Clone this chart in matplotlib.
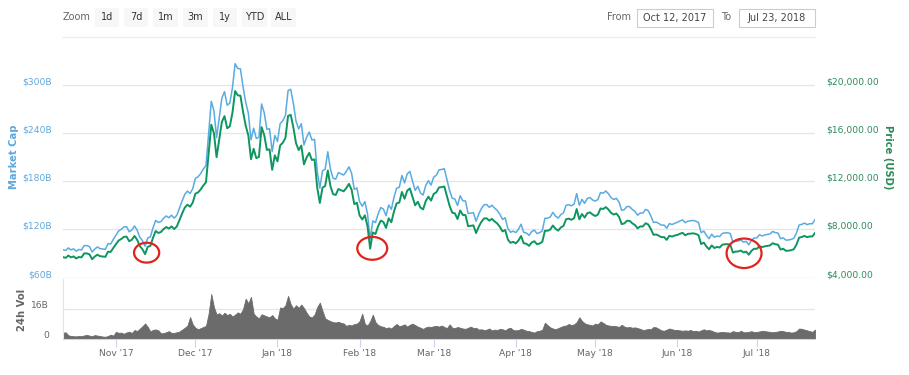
"""
Market cap / price / 24h volume chart, Oct 12 2017 - Jul 23 2018
"""
import matplotlib
matplotlib.use('Agg')
import matplotlib.pyplot as plt
import matplotlib.dates as mdates
import matplotlib.transforms as mtransforms
from matplotlib.patches import Ellipse, FancyBboxPatch, Rectangle
from matplotlib.ticker import FixedLocator, FuncFormatter
import pandas as pd

W, H = 909, 375

START_DATE = '2017-10-12'
END_DATE = '2018-07-23'

# daily price (USD), one value per day
price_oct = [5700, 5640, 5830, 5680, 5760, 5590, 5710, 5680, 6010, 6010, 5930, 5526, 5750, 5904, 5780,
             5753, 5726, 6153, 6130, 6468]
price_nov = [6767, 7078, 7207, 7379, 7407, 7022, 7144, 7459, 7143, 6618, 6357, 5950, 6559, 6635, 7315,
             7871, 7708, 7790, 8037, 8200, 8071, 8253, 8038, 8253, 8790, 9330, 9818, 10058, 9888, 10233]
price_dec = [10975, 11075, 11323, 11657, 11916, 14291, 16700, 16000, 14000, 15455, 16937, 17415, 16408,
             16564, 17706, 19497, 19140, 19114, 17776, 16624, 15802, 13831, 14699, 13926, 14026, 16500,
             15838, 14606, 14656, 12952, 14156]
price_jan = [13657, 14982, 15201, 15599, 17429, 17527, 16477, 15170, 14595, 14973, 13405, 13980, 14360,
             13772, 13819, 11490, 10200, 11474, 11607, 12899, 11600, 10931, 10868, 11359, 11259, 11171,
             11440, 11786, 11296, 10106, 10221]
price_feb = [9170, 8830, 9174, 8277, 6400, 7754, 7621, 8265, 8736, 8621, 8129, 8926, 8598, 9494, 10166,
             10233, 11112, 10551, 11225, 11403, 10690, 10005, 10301, 9813, 9664, 10366, 10725, 10397]
price_mar = [10951, 11086, 11489, 11512, 11573, 10779, 9965, 9395, 9337, 8866, 9578, 9205, 9194, 8269,
             8300, 8338, 7700, 8223, 8630, 8913, 8929, 8728, 8879, 8668, 8495, 8210, 7834, 7954, 7165,
             6890, 6973]
price_apr = [6844, 7083, 7456, 6853, 6811, 6636, 6911, 7023, 6771, 6834, 6968, 7889, 7895, 7986, 8329,
             8058, 7902, 8163, 8294, 8845, 8895, 8803, 8930, 9697, 8845, 9281, 8987, 9348, 9419, 9240]
price_may = [9119, 9235, 9743, 9700, 9858, 9654, 9373, 9234, 9325, 9043, 8441, 8504, 8723, 8716, 8510,
             8368, 8094, 8250, 8247, 8513, 8419, 8041, 7557, 7587, 7480, 7355, 7368, 7135, 7472, 7406,
             7494]
price_jun = [7541, 7643, 7720, 7514, 7633, 7653, 7678, 7624, 7531, 6786, 6906, 6582, 6349, 6675, 6456,
             6550, 6500, 6734, 6769, 6776, 6729, 6083, 6162, 6173, 6249, 6093, 6157, 5903, 6218, 6404]
price_jul = [6385, 6614, 6529, 6597, 6639, 6673, 6857, 6773, 6741, 6329, 6394, 6228, 6238, 6276, 6359,
             6742, 7321, 7370, 7466, 7354, 7419, 7418, 7711]

# daily market cap (billions USD)
mcap_oct = [94.8, 93.8, 97.0, 94.5, 95.8, 93.0, 95.0, 94.5, 99.9, 99.9, 98.6, 91.9, 95.6, 98.2, 96.1,
            95.7, 95.2, 102.3, 101.9, 107.6]
mcap_nov = [112.9, 118.1, 120.2, 123.1, 123.5, 117.1, 119.2, 124.4, 119.1, 110.4, 106.0, 99.2, 109.4,
            110.7, 122.0, 131.3, 128.6, 129.9, 134.1, 136.8, 134.6, 137.7, 134.1, 137.7, 146.6, 155.6,
            163.8, 167.8, 164.9, 170.7]
mcap_dec = [183.8, 185.5, 189.7, 195.3, 199.6, 239.4, 279.7, 268.0, 234.5, 258.9, 283.7, 291.7, 274.8,
            277.4, 296.6, 326.6, 320.6, 320.2, 297.7, 278.5, 264.7, 231.7, 246.2, 233.3, 234.9, 276.4,
            265.3, 244.7, 245.5, 216.9, 237.1]
mcap_jan = [229.6, 251.8, 255.5, 262.2, 293.0, 294.6, 277.0, 255.0, 245.3, 251.7, 225.3, 235.0, 241.4,
            231.5, 232.3, 193.1, 171.5, 192.9, 195.1, 216.8, 195.0, 183.8, 182.7, 190.9, 189.3, 187.8,
            192.3, 198.1, 189.9, 169.9, 171.8]
mcap_feb = [154.6, 148.9, 154.7, 139.5, 107.9, 130.7, 128.5, 139.3, 147.3, 145.4, 137.1, 150.5, 145.0,
            160.1, 171.4, 172.5, 187.3, 177.9, 189.3, 192.3, 180.2, 168.7, 173.7, 165.4, 162.9, 174.8,
            180.8, 175.3]
mcap_mar = [185.2, 187.5, 194.3, 194.7, 195.7, 182.3, 168.5, 158.9, 157.9, 149.9, 162.0, 155.7, 155.5,
            139.8, 140.4, 141.0, 130.2, 139.1, 145.9, 150.7, 151.0, 147.6, 150.1, 146.6, 143.7, 138.8,
            132.5, 134.5, 121.2, 116.5, 117.9]
mcap_apr = [116.1, 120.2, 126.5, 116.3, 115.6, 112.6, 117.3, 119.2, 114.9, 116.0, 118.2, 133.9, 134.0,
            135.5, 141.3, 136.7, 134.1, 138.5, 140.7, 150.1, 150.9, 149.4, 151.5, 164.6, 150.1, 157.5,
            152.5, 158.6, 159.8, 156.8]
mcap_may = [155.3, 157.3, 165.9, 165.2, 167.9, 164.4, 159.6, 157.3, 158.8, 154.0, 143.8, 144.8, 148.6,
            148.4, 144.9, 142.5, 137.8, 140.5, 140.4, 145.0, 143.4, 136.9, 128.7, 129.2, 127.4, 125.3,
            125.5, 121.5, 127.3, 126.1, 127.6]
mcap_jun = [128.9, 130.6, 131.9, 128.4, 130.4, 130.8, 131.2, 130.3, 128.7, 116.0, 118.0, 112.5, 108.5,
            114.1, 110.3, 111.9, 111.1, 115.1, 115.7, 115.8, 115.0, 104.0, 105.3, 105.5, 106.8, 104.1,
            105.2, 100.9, 106.3, 109.4]
mcap_jul = [109.4, 113.4, 111.9, 113.1, 113.8, 114.4, 117.5, 116.1, 115.5, 108.5, 109.6, 106.7, 106.9,
            107.6, 109.0, 115.6, 125.5, 126.3, 128.0, 126.0, 127.2, 127.1, 132.2]

# daily 24h volume (billions USD)
vol_oct = [3.3, 3.6, 2.0, 1.6, 1.5, 1.4, 1.6, 1.5, 1.9, 2.2, 1.8, 1.5, 2.1, 1.8, 1.6, 1.3, 1.2, 1.6, 2.3, 1.8]
vol_nov = [3.8, 3.3, 3.4, 2.8, 3.5, 3.9, 3.2, 4.8, 4.2, 5.5, 6.8, 8.3, 6.5, 4.0, 4.9, 5.1, 4.6, 3.0, 3.2,
           3.6, 4.2, 3.2, 3.3, 3.6, 4.0, 5.0, 6.0, 7.2, 11.7, 7.8]
vol_dec = [6.0, 5.2, 5.8, 6.4, 7.0, 13.6, 24.0, 17.0, 13.0, 13.8, 12.5, 14.0, 12.8, 13.4, 12.0, 13.0,
           14.2, 13.5, 16.0, 21.5, 19.0, 22.5, 13.5, 12.0, 11.0, 13.2, 12.6, 12.0, 11.6, 12.8, 11.0]
vol_jan = [10.3, 16.8, 16.5, 18.0, 23.0, 18.5, 16.2, 18.0, 16.6, 18.4, 16.5, 14.0, 12.0, 11.5, 13.0, 17.0,
           19.4, 15.0, 11.0, 10.2, 9.5, 9.0, 8.8, 9.2, 8.6, 8.3, 7.0, 7.6, 7.2, 8.0, 8.2]
vol_feb = [9.5, 13.5, 8.0, 7.2, 9.5, 13.0, 9.0, 7.5, 6.8, 6.5, 5.8, 6.2, 5.6, 7.0, 8.0, 6.8, 7.2, 7.8, 6.6,
           7.6, 8.2, 7.4, 6.6, 6.0, 5.4, 6.2, 6.6, 6.4]
vol_mar = [6.8, 7.0, 6.6, 7.2, 6.4, 5.8, 7.8, 6.0, 5.8, 6.4, 6.0, 5.6, 5.4, 6.0, 6.6, 5.8, 6.0, 5.0, 5.2,
           4.8, 5.0, 5.6, 4.6, 5.0, 4.8, 5.4, 5.2, 4.6, 5.6, 6.0, 4.8]
vol_apr = [4.6, 4.8, 5.4, 5.0, 4.4, 4.2, 3.8, 3.4, 4.2, 4.4, 5.0, 8.7, 7.4, 6.2, 5.6, 5.2, 5.8, 6.4, 7.0,
           7.2, 8.0, 7.4, 7.8, 9.0, 11.6, 9.6, 8.4, 7.8, 7.6, 7.2]
vol_may = [8.2, 7.8, 9.4, 8.6, 7.6, 7.2, 7.0, 7.0, 6.8, 6.4, 7.6, 6.6, 6.2, 6.4, 6.0, 6.2, 5.8, 5.4, 4.8,
           5.0, 5.4, 5.2, 6.4, 6.2, 5.4, 4.6, 4.4, 5.0, 5.6, 5.2, 4.8]
vol_jun = [4.8, 4.6, 4.4, 4.6, 4.4, 4.8, 4.2, 4.4, 4.0, 4.6, 5.2, 4.6, 4.8, 4.4, 3.8, 3.4, 3.6, 3.8, 3.6,
           3.5, 3.4, 4.2, 3.8, 3.6, 4.4, 3.6, 3.6, 3.8, 4.2, 3.6]
vol_jul = [3.8, 4.0, 4.4, 4.2, 4.0, 3.8, 3.6, 3.8, 4.0, 4.4, 4.2, 3.8, 3.8, 3.4, 3.6, 4.2, 5.6, 5.4, 5.0,
           4.6, 4.2, 3.8, 5.0]

mcap_ticks = [60, 120, 180, 240, 300]
price_ticks = [4000, 8000, 12000, 16000, 20000]
vol_ticks = [0, 16]
zoom_buttons = ['1d', '7d', '1m', '3m', '1y', 'YTD', 'ALL']
from_label = 'Oct 12, 2017'
to_label = 'Jul 23, 2018'

# red circles drawn on the chart: centre date, centre price, width (days), height (USD)
circle_dates = ['2017-11-12 14:00', '2018-02-05 19:00', '2018-06-26 05:00']
circle_prices = [6070, 6430, 6020]
circle_w = [9.5, 11.3, 13.2]
circle_h = [1650, 1900, 2450]

BLUE = '#5aabe2'
GREEN = '#0e9560'
BLUE_TXT = '#5fa8dc'
GREEN_TXT = '#2b8c5c'
GRID = '#e6e6e6'
GREY_TXT = '#666666'
FS = 6.6

price = (price_oct + price_nov + price_dec + price_jan + price_feb + price_mar + price_apr
         + price_may + price_jun + price_jul)
mcap = (mcap_oct + mcap_nov + mcap_dec + mcap_jan + mcap_feb + mcap_mar + mcap_apr
        + mcap_may + mcap_jun + mcap_jul)
vol = (vol_oct + vol_nov + vol_dec + vol_jan + vol_feb + vol_mar + vol_apr
       + vol_may + vol_jun + vol_jul)
dates = pd.date_range(START_DATE, END_DATE, freq='D')
x = mdates.date2num(dates.to_pydatetime())


def fx(px):
    return px / W


def fy(py):
    return 1 - py / H


plt.rcParams['font.family'] = ['DejaVu Sans']
fig = plt.figure(figsize=(W / 100, H / 100), dpi=100)
fig.patch.set_facecolor('white')

left, right = 63, 815
main_top, main_bot = 52.9, 277.6
vol_top, vol_bot = 279, 339

ax = fig.add_axes([fx(left), fy(main_bot), fx(right - left), (main_bot - main_top) / H])
ax2 = ax.twinx()
axv = fig.add_axes([fx(left), fy(vol_bot), fx(right - left), (vol_bot - vol_top) / H], sharex=ax)

# lines
ax.plot(x, mcap, color=BLUE, lw=1.1, zorder=3)
ax2.plot(x, price, color=GREEN, lw=1.4, zorder=3)
ax.set_xlim(x[0], x[-1])
ax.set_ylim(60, 340)
ax2.set_ylim(4000, 340 / 15 * 1000)

ax.yaxis.set_major_locator(FixedLocator(mcap_ticks))
ax.yaxis.set_major_formatter(FuncFormatter(lambda v, p: '$%dB' % v))
ax2.yaxis.set_major_locator(FixedLocator(price_ticks))
ax2.yaxis.set_major_formatter(FuncFormatter(lambda v, p: '${:,.2f}'.format(v)))
ax.grid(axis='y', color=GRID, lw=1)
ax.set_axisbelow(True)
for a in (ax, ax2):
    for s in a.spines.values():
        s.set_visible(False)
    a.tick_params(axis='x', which='both', bottom=False, labelbottom=False)
ax.tick_params(axis='y', length=0, pad=8, labelsize=FS, labelcolor=BLUE_TXT)
ax2.tick_params(axis='y', length=0, pad=8, labelsize=FS, labelcolor=GREEN_TXT)

# highcharts puts labels a little above gridlines
lift = mtransforms.ScaledTranslation(0, 4 / 100, fig.dpi_scale_trans)
for lab in ax.get_yticklabels() + ax2.get_yticklabels():
    lab.set_transform(lab.get_transform() + lift)

for d, p, w, h in zip(circle_dates, circle_prices, circle_w, circle_h):
    c = mdates.date2num(pd.Timestamp(d).to_pydatetime())
    ax2.add_patch(Ellipse((c, p), width=w, height=h, fill=False, ec='#e0231c', lw=1.6, zorder=5))

# volume
axv.fill_between(x, 0, vol, color='#6b6b6b', lw=0.6, zorder=2)
axv.set_ylim(0, 32)
axv.yaxis.set_major_locator(FixedLocator(vol_ticks))
axv.yaxis.set_major_formatter(FuncFormatter(lambda v, p: '0' if v == 0 else '%dB' % v))
axv.grid(axis='y', color=GRID, lw=1)
axv.set_axisbelow(True)
for s in ('top', 'right'):
    axv.spines[s].set_visible(False)
axv.spines['left'].set_color('#dfe5ef')
axv.spines['bottom'].set_color('#ccd6eb')
axv.tick_params(axis='y', length=0, pad=10, labelsize=FS, labelcolor=GREY_TXT)
for lab in axv.get_yticklabels():
    lab.set_transform(lab.get_transform() + lift)
axv.xaxis.set_major_locator(mdates.MonthLocator(bymonthday=1))
axv.xaxis.set_major_formatter(mdates.DateFormatter("%b '%y"))
axv.tick_params(axis='x', length=6, color='#ccd6eb', pad=1, labelsize=FS, labelcolor=GREY_TXT,
                direction='out')

# axis titles
fig.text(fx(14), fy(157), 'Market Cap', rotation=90, ha='center', va='center',
         fontsize=7.2, color=BLUE_TXT, fontweight='bold')
fig.text(fx(888), fy(157), 'Price (USD)', rotation=270, ha='center', va='center',
         fontsize=7.2, color=GREEN_TXT, fontweight='bold')
fig.text(fx(22), fy(310), '24h Vol', rotation=90, ha='center', va='center',
         fontsize=7.2, color=GREY_TXT, fontweight='bold')

# range selector
fig.text(fx(63), fy(17), 'Zoom', ha='left', va='center', fontsize=FS + 0.4, color=GREY_TXT)
btn_left = [95, 124, 153, 183, 213, 242, 271]
btn_w = [24, 24, 25, 25, 24, 25, 25]
for lbl, bx, bw in zip(zoom_buttons, btn_left, btn_w):
    fig.patches.append(FancyBboxPatch((fx(bx), fy(27)), fx(bw), 19 / H,
                                      boxstyle='round,pad=0,rounding_size=0.002',
                                      transform=fig.transFigure, fc='#f7f7f7', ec='none'))
    fig.text(fx(bx + bw / 2), fy(17), lbl, ha='center', va='center', fontsize=FS + 0.4, color='#333333')

fig.text(fx(607), fy(17), 'From', ha='left', va='center', fontsize=FS + 0.4, color=GREY_TXT)
fig.text(fx(721), fy(17), 'To', ha='left', va='center', fontsize=FS + 0.4, color=GREY_TXT)
for lbl, bx, bw in ((from_label, 637, 76), (to_label, 739, 76)):
    fig.patches.append(Rectangle((fx(bx), fy(27)), fx(bw), 18 / H, transform=fig.transFigure,
                                 fc='white', ec='#cccccc', lw=0.8))
    fig.text(fx(bx + bw / 2), fy(18), lbl, ha='center', va='center', fontsize=FS + 0.4, color='#444444')

# thin separator under the toolbar
fig.lines.append(plt.Line2D([fx(63), fx(815)], [fy(37), fy(37)], transform=fig.transFigure,
                            color='#ececec', lw=1))

fig.savefig('out.png', dpi=100, facecolor='white')
